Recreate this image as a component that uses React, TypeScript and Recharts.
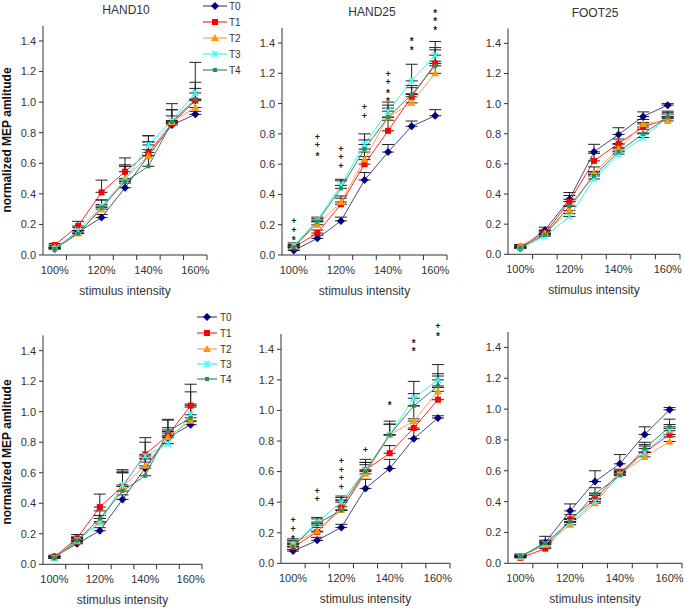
import { ComposedChart, Line, XAxis, YAxis, ErrorBar } from 'recharts';

// stimulus intensities (% of threshold)
const INTENSITIES = [100, 110, 120, 130, 140, 150, 160];
const LABELED_TICKS = [100, 120, 140, 160];
const BOUNDARY_TICKS = [105, 115, 125, 135, 145, 155, 165];
const Y_TICKS = [0, 0.2, 0.4, 0.6, 0.8, 1.0, 1.2, 1.4];
const SERIES = ['T0', 'T1', 'T2', 'T3', 'T4'];
const TITLES = ['HAND10', 'HAND25', 'FOOT25'];

// HAND10, upper row
const H10A_T0 = [0.04, 0.15, 0.245, 0.44, 0.65, 0.85, 0.92];
const H10A_T1 = [0.065, 0.19, 0.41, 0.545, 0.67, 0.86, 1.01];
const H10A_T2 = [0.05, 0.14, 0.3, 0.5, 0.65, 0.87, 0.965];
const H10A_T3 = [0.04, 0.16, 0.32, 0.49, 0.72, 0.88, 1.06];
const H10A_T4 = [0.04, 0.14, 0.31, 0.48, 0.58, 0.87, 1.02];
const H10A_E0 = [0.005, 0.01, 0.02, 0.03, 0.04, 0.02, 0.02];
const H10A_E1 = [0.01, 0.03, 0.08, 0.09, 0.11, 0.13, 0.12];
const H10A_E2 = [0.01, 0.02, 0.03, 0.08, 0.09, 0.04, 0.05];
const H10A_E3 = [0.01, 0.02, 0.04, 0.09, 0.06, 0.07, 0.03];
const H10A_E4 = [0.01, 0.02, 0.05, 0.11, 0.16, 0.08, 0.24];

// HAND25, upper row
const H25A_T0 = [0.03, 0.11, 0.225, 0.495, 0.68, 0.85, 0.92];
const H25A_T1 = [0.05, 0.145, 0.335, 0.6, 0.82, 1.045, 1.265];
const H25A_T2 = [0.06, 0.2, 0.35, 0.63, 0.91, 1.005, 1.2];
const H25A_T3 = [0.06, 0.23, 0.46, 0.73, 0.95, 1.15, 1.32];
const H25A_T4 = [0.05, 0.22, 0.44, 0.7, 0.91, 1.06, 1.25];
const H25A_E0 = [0.01, 0.02, 0.025, 0.05, 0.05, 0.035, 0.04];
const H25A_E1 = [0.01, 0.02, 0.04, 0.05, 0.07, 0.06, 0.09];
const H25A_E2 = [0.01, 0.02, 0.04, 0.05, 0.06, 0.06, 0.08];
const H25A_E3 = [0.02, 0.02, 0.04, 0.07, 0.06, 0.11, 0.09];
const H25A_E4 = [0.02, 0.02, 0.05, 0.06, 0.08, 0.06, 0.12];
const H25A_SIG_BASE = [0.11, 0.67, 0.59, 0.92, 1.03, 1.37, 1.5];
const H25A_SIG_MARKS = ['++*', '++*', '+++', '++', '++**', '**', '***'];

// FOOT25, upper row
const F25A_T0 = [0.04, 0.16, 0.365, 0.68, 0.795, 0.915, 0.99];
const F25A_T1 = [0.05, 0.14, 0.35, 0.62, 0.735, 0.845, 0.9];
const F25A_T2 = [0.055, 0.14, 0.29, 0.54, 0.7, 0.865, 0.885];
const F25A_T3 = [0.04, 0.12, 0.25, 0.5, 0.665, 0.775, 0.91];
const F25A_T4 = [0.045, 0.13, 0.32, 0.52, 0.68, 0.8, 0.91];
const F25A_E0 = [0.01, 0.02, 0.045, 0.05, 0.045, 0.03, 0.01];
const F25A_E1 = [0.01, 0.02, 0.04, 0.05, 0.03, 0.03, 0.03];
const F25A_E2 = [0.01, 0.01, 0.03, 0.04, 0.03, 0.03, 0.03];
const F25A_E3 = [0.01, 0.01, 0.02, 0.03, 0.02, 0.03, 0.03];
const F25A_E4 = [0.01, 0.01, 0.03, 0.03, 0.03, 0.03, 0.04];

// HAND10, lower row
const H10B_T0 = [0.05, 0.135, 0.22, 0.425, 0.63, 0.83, 0.915];
const H10B_T1 = [0.05, 0.17, 0.375, 0.51, 0.72, 0.845, 1.04];
const H10B_T2 = [0.04, 0.15, 0.28, 0.51, 0.645, 0.835, 0.94];
const H10B_T3 = [0.04, 0.16, 0.27, 0.52, 0.71, 0.79, 0.98];
const H10B_T4 = [0.04, 0.155, 0.3, 0.48, 0.58, 0.87, 0.96];
const H10B_E0 = [0.005, 0.01, 0.02, 0.03, 0.04, 0.03, 0.02];
const H10B_E1 = [0.01, 0.025, 0.085, 0.11, 0.11, 0.1, 0.14];
const H10B_E2 = [0.01, 0.02, 0.04, 0.09, 0.05, 0.06, 0.09];
const H10B_E3 = [0.01, 0.02, 0.05, 0.08, 0.09, 0.09, 0.07];
const H10B_E4 = [0.01, 0.02, 0.05, 0.13, 0.11, 0.08, 0.17];

// HAND25, lower row
const H25B_T0 = [0.08, 0.15, 0.235, 0.49, 0.62, 0.815, 0.95];
const H25B_T1 = [0.105, 0.205, 0.37, 0.61, 0.72, 0.885, 1.07];
const H25B_T2 = [0.13, 0.21, 0.35, 0.585, 0.84, 0.93, 1.125];
const H25B_T3 = [0.12, 0.27, 0.4, 0.61, 0.84, 1.08, 1.2];
const H25B_T4 = [0.11, 0.26, 0.345, 0.6, 0.84, 1.03, 1.16];
const H25B_E0 = [0.01, 0.02, 0.02, 0.06, 0.06, 0.06, 0.015];
const H25B_E1 = [0.02, 0.03, 0.06, 0.05, 0.05, 0.06, 0.08];
const H25B_E2 = [0.03, 0.04, 0.06, 0.06, 0.09, 0.1, 0.1];
const H25B_E3 = [0.03, 0.03, 0.04, 0.07, 0.07, 0.11, 0.1];
const H25B_E4 = [0.03, 0.03, 0.07, 0.06, 0.07, 0.08, 0.08];
const H25B_SIG_BASE = [0.17, 0.42, 0.5, 0.74, 1.05, 1.4, 1.5];
const H25B_SIG_MARKS = ['++*', '++', '++++', '+', '*', '**', '+*'];

// FOOT25, lower row
const F25B_T0 = [0.04, 0.135, 0.34, 0.53, 0.645, 0.835, 0.995];
const F25B_T1 = [0.035, 0.095, 0.285, 0.415, 0.59, 0.72, 0.835];
const F25B_T2 = [0.04, 0.12, 0.25, 0.39, 0.58, 0.69, 0.79];
const F25B_T3 = [0.04, 0.125, 0.265, 0.4, 0.575, 0.72, 0.86];
const F25B_T4 = [0.045, 0.13, 0.27, 0.45, 0.57, 0.745, 0.885];
const F25B_E0 = [0.02, 0.04, 0.045, 0.07, 0.06, 0.05, 0.015];
const F25B_E1 = [0.01, 0.01, 0.03, 0.04, 0.02, 0.05, 0.04];
const F25B_E2 = [0.01, 0.02, 0.02, 0.03, 0.02, 0.03, 0.03];
const F25B_E3 = [0.01, 0.02, 0.02, 0.04, 0.02, 0.04, 0.04];
const F25B_E4 = [0.01, 0.02, 0.02, 0.04, 0.02, 0.04, 0.05];

const FONT = '"Liberation Sans", Arial, sans-serif';
const AXIS = '#333';
const TEXT = '#333';

const STYLE: { [k: string]: { line: string; fill: string; shape: string } } = {
  T0: { line: '#4a4a7a', fill: '#000080', shape: 'diamond' },
  T1: { line: '#ff2a2a', fill: '#ff0000', shape: 'square' },
  T2: { line: '#ff9966', fill: '#ff9900', shape: 'triangle' },
  T3: { line: '#3cf2f2', fill: '#33ffff', shape: 'star' },
  T4: { line: '#3b8a5a', fill: '#2e8b57', shape: 'small' },
};

// plot-area rectangles of the six panels (page pixels)
const LAYOUT = [
  { left: 43, right: 207, top: 25.7, bottom: 255 },
  { left: 282, right: 447, top: 27.9, bottom: 255 },
  { left: 508, right: 680, top: 28.3, bottom: 254.3 },
  { left: 43, right: 202, top: 335.4, bottom: 564.3 },
  { left: 281, right: 450, top: 334, bottom: 563.3 },
  { left: 508, right: 682, top: 332, bottom: 563.3 },
];

const PANELS = [
  { values: [H10A_T0, H10A_T1, H10A_T2, H10A_T3, H10A_T4], errors: [H10A_E0, H10A_E1, H10A_E2, H10A_E3, H10A_E4] },
  { values: [H25A_T0, H25A_T1, H25A_T2, H25A_T3, H25A_T4], errors: [H25A_E0, H25A_E1, H25A_E2, H25A_E3, H25A_E4], sigBase: H25A_SIG_BASE, sigMarks: H25A_SIG_MARKS },
  { values: [F25A_T0, F25A_T1, F25A_T2, F25A_T3, F25A_T4], errors: [F25A_E0, F25A_E1, F25A_E2, F25A_E3, F25A_E4] },
  { values: [H10B_T0, H10B_T1, H10B_T2, H10B_T3, H10B_T4], errors: [H10B_E0, H10B_E1, H10B_E2, H10B_E3, H10B_E4] },
  { values: [H25B_T0, H25B_T1, H25B_T2, H25B_T3, H25B_T4], errors: [H25B_E0, H25B_E1, H25B_E2, H25B_E3, H25B_E4], sigBase: H25B_SIG_BASE, sigMarks: H25B_SIG_MARKS },
  { values: [F25B_T0, F25B_T1, F25B_T2, F25B_T3, F25B_T4], errors: [F25B_E0, F25B_E1, F25B_E2, F25B_E3, F25B_E4] },
];

const X_TICKS = [...LABELED_TICKS, ...BOUNDARY_TICKS].sort((a, b) => a - b);

function Marker({ shape, fill, cx, cy }: { shape: string; fill: string; cx: number; cy: number }) {
  if (shape === 'diamond')
    return <polygon points={`${cx},${cy - 4} ${cx + 4},${cy} ${cx},${cy + 4} ${cx - 4},${cy}`} fill={fill} />;
  if (shape === 'square') return <rect x={cx - 3} y={cy - 3} width={6} height={6} fill={fill} />;
  if (shape === 'triangle')
    return <polygon points={`${cx},${cy - 4} ${cx + 4},${cy + 3} ${cx - 4},${cy + 3}`} fill={fill} />;
  if (shape === 'star')
    return (
      <g stroke={fill} strokeWidth={1.2}>
        <line x1={cx - 3} y1={cy - 3} x2={cx + 3} y2={cy + 3} />
        <line x1={cx - 3} y1={cy + 3} x2={cx + 3} y2={cy - 3} />
        <line x1={cx} y1={cy - 3} x2={cx} y2={cy + 3} />
      </g>
    );
  return <rect x={cx - 2} y={cy - 2} width={4} height={4} fill={fill} />;
}

const makeDot = (name: string) => (props: any) => {
  const { cx, cy, index } = props;
  if (cx == null || cy == null) return <g key={`${name}-${index}`} />;
  return (
    <g key={`${name}-${index}`}>
      <Marker shape={STYLE[name].shape} fill={STYLE[name].fill} cx={cx} cy={cy} />
    </g>
  );
};

const SigDot = (props: any) => {
  const { cx, cy, index, payload } = props;
  if (cx == null || cy == null || !payload.sigMarks) return <g key={`sig-${index}`} />;
  const marks: string[] = payload.sigMarks.split('');
  return (
    <g key={`sig-${index}`}>
      {marks.map((m, j) => (
        <text
          key={j}
          x={cx}
          y={cy - (marks.length - 1 - j) * 8.5 + (m === '*' ? 6 : 3)}
          textAnchor="middle"
          fontSize={m === '*' ? 10 : 9}
          fontWeight="bold"
          fontFamily={FONT}
          style={{ fill: '#222', stroke: 'none' }}
        >
          {m}
        </text>
      ))}
    </g>
  );
};

const XTick = (props: any) => {
  const { x, y, payload } = props;
  const v = payload.value;
  if (BOUNDARY_TICKS.includes(v)) return <line x1={x} x2={x} y1={y - 5} y2={y} stroke={AXIS} />;
  return (
    <text x={x} y={y + 14} textAnchor="middle" fontSize={11} fontFamily={FONT} fill={TEXT}>
      {v}%
    </text>
  );
};

function Panel({ index }: { index: number }) {
  const p = PANELS[index];
  const box = LAYOUT[index];
  const data = INTENSITIES.map((x, i) => {
    const row: any = { x };
    SERIES.forEach((s, k) => {
      row[s] = p.values[k][i];
      row[`${s}err`] = [0, p.errors[k][i]];
    });
    if (p.sigBase) {
      row.sig = p.sigBase[i];
      row.sigMarks = p.sigMarks![i];
    }
    return row;
  });
  return (
    <div style={{ position: 'absolute', left: 0, top: 0 }}>
      <ComposedChart
        width={685}
        height={609}
        data={data}
        margin={{ top: box.top, left: box.left - 30, right: 685 - box.right, bottom: 609 - box.bottom - 40 }}
      >
        <XAxis
          dataKey="x"
          type="number"
          domain={[95, 165]}
          ticks={X_TICKS}
          interval={0}
          tick={XTick}
          tickLine={false}
          tickSize={5}
          tickMargin={0}
          stroke={AXIS}
          height={40}
          label={{ value: 'stimulus intensity', position: 'insideBottom', offset: 0, fill: TEXT, fontSize: 12, fontFamily: FONT }}
        />
        <YAxis
          type="number"
          domain={[0, 1.5]}
          ticks={Y_TICKS}
          interval={0}
          tickFormatter={(v: number) => v.toFixed(1)}
          tickSize={4}
          tickMargin={3}
          width={30}
          stroke={AXIS}
          tick={{ fill: TEXT, fontSize: 11, fontFamily: FONT }}
        />
        {SERIES.map((s) => (
          <Line
            key={s}
            dataKey={s}
            type="linear"
            stroke={STYLE[s].line}
            strokeWidth={1}
            dot={makeDot(s)}
            activeDot={false}
            isAnimationActive={false}
          >
            <ErrorBar dataKey={`${s}err`} width={6} stroke="#222" strokeWidth={1} direction="y" isAnimationActive={false} />
          </Line>
        ))}
        {p.sigBase && (
          <Line dataKey="sig" stroke="none" dot={SigDot} activeDot={false} isAnimationActive={false} legendType="none" />
        )}
      </ComposedChart>
    </div>
  );
}

function Legend({ x1, x2, tx, rows }: { x1: number; x2: number; tx: number; rows: number[] }) {
  return (
    <g>
      {SERIES.map((s, i) => (
        <g key={s}>
          <line x1={x1} x2={x2} y1={rows[i]} y2={rows[i]} stroke={STYLE[s].line} strokeWidth={1.2} />
          <Marker shape={STYLE[s].shape} fill={STYLE[s].fill} cx={(x1 + x2) / 2} cy={rows[i]} />
          <text x={tx} y={rows[i] + 3.5} fontSize={10} fontFamily={FONT} fill={TEXT}>
            {s}
          </text>
        </g>
      ))}
    </g>
  );
}

export default function App() {
  return (
    <div style={{ position: 'absolute', left: 0, top: 0, width: 685, height: 609, background: '#fff' }}>
      {LAYOUT.map((_, i) => (
        <Panel key={i} index={i} />
      ))}
      <svg width={685} height={609} style={{ position: 'absolute', left: 0, top: 0, pointerEvents: 'none' }}>
        <text x={126} y={14} textAnchor="middle" fontSize={12} fontFamily={FONT} fill={TEXT}>{TITLES[0]}</text>
        <text x={372} y={16} textAnchor="middle" fontSize={12} fontFamily={FONT} fill={TEXT}>{TITLES[1]}</text>
        <text x={595} y={17} textAnchor="middle" fontSize={12} fontFamily={FONT} fill={TEXT}>{TITLES[2]}</text>
        <text transform="translate(11,140) rotate(-90)" textAnchor="middle" fontSize={12} fontWeight="bold" fontFamily={FONT} fill="#111">
          normalized MEP amlitude
        </text>
        <text transform="translate(11,452) rotate(-90)" textAnchor="middle" fontSize={12} fontWeight="bold" fontFamily={FONT} fill="#111">
          normalized MEP amlitude
        </text>
        <Legend x1={203} x2={227} tx={229} rows={[6, 22, 38, 54, 70]} />
        <Legend x1={197} x2={217} tx={220} rows={[317, 333, 349, 364, 379]} />
      </svg>
    </div>
  );
}
